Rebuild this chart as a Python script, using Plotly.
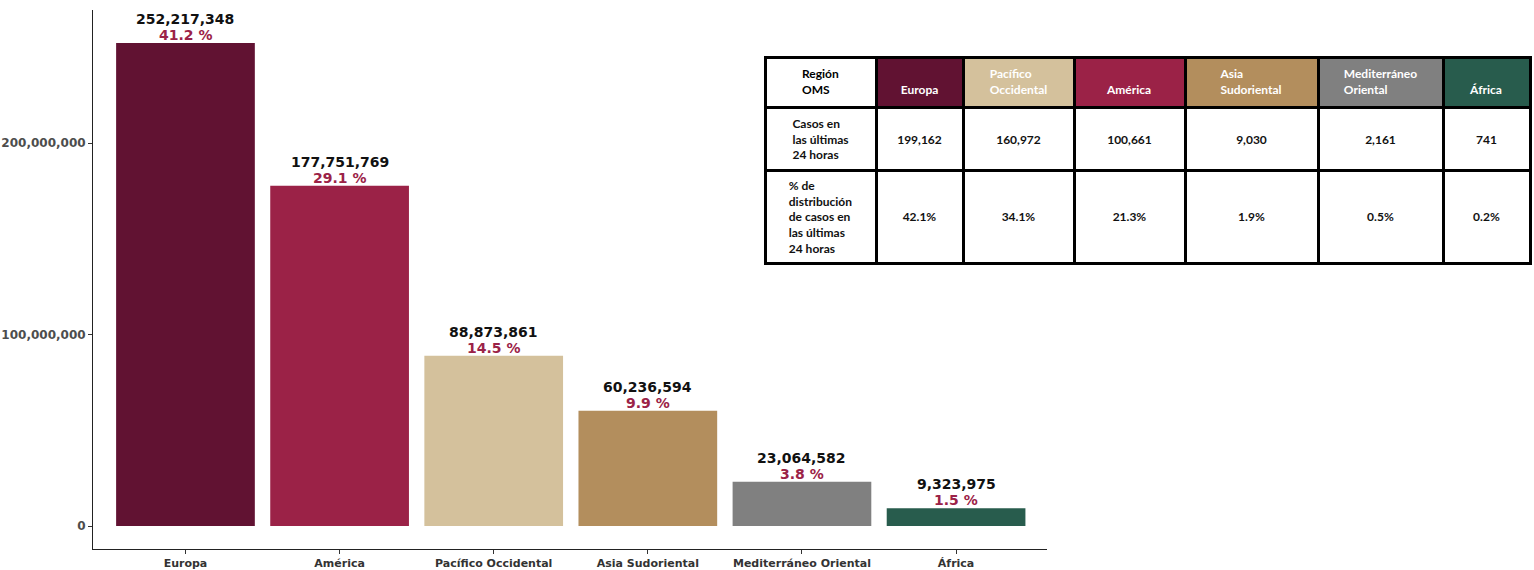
import plotly.graph_objects as go

# ---- data ----
regions = ["Europa", "América", "Pacífico Occidental", "Asia Sudoriental",
           "Mediterráneo Oriental", "África"]
cases = [252217348, 177751769, 88873861, 60236594, 23064582, 9323975]
pct = [41.2, 29.1, 14.5, 9.9, 3.8, 1.5]
bar_colors = ["#611232", "#9B2247", "#D4C19C", "#B38E5D", "#808080", "#285C4D"]

y_ticks = [0, 100000000, 200000000]

table_corner = "Región<br>OMS"
table_regions = ["Europa", "Pacífico<br>Occidental", "América", "Asia<br>Sudoriental",
                 "Mediterráneo<br>Oriental", "África"]
table_colors = ["#611232", "#D4C19C", "#9B2247", "#B38E5D", "#808080", "#285C4D"]
row_labels = ["Casos en<br>las últimas<br>24 horas",
              "% de<br>distribución<br>de casos en<br>las últimas<br>24 horas"]
cases_24h = [199162, 160972, 100661, 9030, 2161, 741]
pct_24h = [42.1, 34.1, 21.3, 1.9, 0.5, 0.2]

FONT = "DejaVu Sans"
TFONT = "Lato"
PCT_COLOR = "#9B2247"
NB = "\u00a0"

fig = go.Figure()

fig.add_trace(go.Bar(
    x=regions, y=cases, marker_color=bar_colors, width=0.9,
    marker_line_width=0, showlegend=False, hoverinfo="x+y",
))

for r, c, p in zip(regions, cases, pct):
    fig.add_annotation(x=r, y=c, text=f"{p} %", showarrow=False,
                       yanchor="bottom", yshift=-2,
                       font=dict(family=FONT, size=14, color=PCT_COLOR, weight="bold"))
    fig.add_annotation(x=r, y=c, text=f"{c:,}", showarrow=False,
                       yanchor="bottom", yshift=14,
                       font=dict(family=FONT, size=14, color="#111111", weight="bold"))

# ---- table ----
col_widths = [111, 87, 111, 111, 133, 125, 87]


def vpad(text, total_lines):
    """Pad a cell with blank lines above so its text sits mid-row."""
    n = text.count("<br>") + 1
    top = (total_lines - n + 1) // 2
    return (NB + "<br>") * top + text


header_vals = [table_corner] + [vpad(t, 2) for t in table_regions]
header_font_colors = ["black"] + ["white"] * len(table_regions)
cell_vals = [row_labels] + [[vpad(f"{c:,}", 3), vpad(f"{p}%", 5)]
                            for c, p in zip(cases_24h, pct_24h)]

fig.add_trace(go.Table(
    domain=dict(x=[(765 - 93) / 1437, (1530 - 93) / 1437], y=[0.45, 0.911]),
    columnwidth=col_widths,
    header=dict(values=header_vals,
                fill_color=["white"] + table_colors,
                line=dict(color="black", width=3),
                align="center", height=50,
                font=dict(family=TFONT, size=12, color=header_font_colors, weight="bold")),
    cells=dict(values=cell_vals,
               fill_color="white",
               line=dict(color="black", width=3),
               align="center", height=30,
               font=dict(family=TFONT, size=12, color="#111111", weight="bold")),
))

fig.update_layout(
    width=1534, height=570,
    margin=dict(l=93, r=4, t=10, b=21),
    plot_bgcolor="white", paper_bgcolor="white",
    xaxis=dict(domain=[0, 954 / 1437], range=[-0.6, 5.59], automargin=False,
               showline=True, linecolor="#222222", linewidth=1,
               ticks="outside", ticklen=4, tickcolor="#333333",
               showgrid=False, zeroline=False,
               tickfont=dict(family=FONT, size=11, color="#333333", weight="bold")),
    yaxis=dict(range=[-12000000, 269500000], tickvals=y_ticks, tickformat=",d",
               automargin=False,
               showline=True, linecolor="#222222", linewidth=1,
               ticks="outside", ticklen=4, tickcolor="#333333",
               showgrid=False, zeroline=False,
               tickfont=dict(family=FONT, size=12, color="#4D4D4D", weight="bold")),
)

fig.write_html("out.html", config={"displayModeBar": False},
               post_script="document.body.style.margin='0px';"
                           "document.body.style.overflow='hidden';")
